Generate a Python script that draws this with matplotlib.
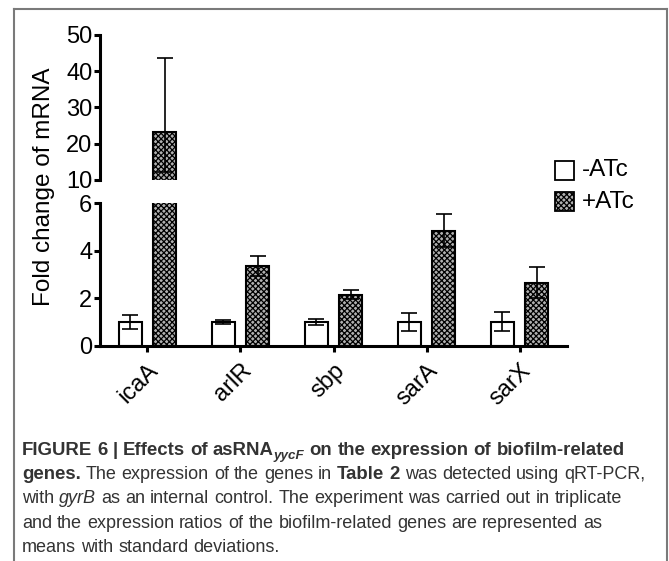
import matplotlib
matplotlib.use("Agg")
import matplotlib.pyplot as plt
import numpy as np
from matplotlib.patches import Rectangle
from matplotlib.lines import Line2D

plt.rcParams['font.family'] = ['Liberation Sans', 'DejaVu Sans']
plt.rcParams['hatch.linewidth'] = 0.9
plt.rcParams['hatch.color'] = '#2a2a2a'

genes = ['icaA', 'arlR', 'sbp', 'sarA', 'sarX']
minus_atc = [1.0, 1.0, 1.0, 1.0, 1.0]
minus_err = [0.30, 0.10, 0.13, 0.36, 0.40]
plus_atc = [23.2, 3.37, 2.14, 4.85, 2.65]
plus_err_low = [10.9, 0.43, 0.19, 0.68, 0.65]
plus_err_high = [20.5, 0.43, 0.19, 0.68, 0.65]
legend_labels = ['-ATc', '+ATc']

W, H = 669, 561
fig = plt.figure(figsize=(W / 100, H / 100), dpi=100)

def fx(px):
    return px / W

def fy(py):
    return 1 - py / H

left, right = 100, 567
ax_top = fig.add_axes([fx(left), fy(180), fx(right - left), (180 - 35) / H])
ax_bot = fig.add_axes([fx(left), fy(345.7), fx(right - left), (345.7 - 203.3) / H])

x = np.arange(len(genes))
off = 0.186
bw = 0.25
hatch_fc = '#b0b0b0'
ekw = dict(elinewidth=1.2, capsize=6, capthick=1.2, ecolor='black')

for ax in (ax_top, ax_bot):
    ax.bar(x - off, minus_atc, bw, yerr=minus_err, color='white', edgecolor='black',
           linewidth=1.5, error_kw=ekw)
    ax.bar(x + off, plus_atc, bw, yerr=[plus_err_low, plus_err_high], color=hatch_fc,
           edgecolor='black', hatch='xxxxxx', linewidth=1.5, error_kw=ekw)
    ax.set_xlim(-0.51, 4.51)
    for s in ('top', 'right'):
        ax.spines[s].set_visible(False)
    ax.spines['left'].set_linewidth(2.2)
    ax.spines['bottom'].set_linewidth(2.2)
    ax.tick_params(axis='y', labelsize=17, width=2.2, length=4, pad=1.5)
    ax.patch.set_alpha(0)

ax_top.set_ylim(10, 50)
ax_top.set_yticks([10, 20, 30, 40, 50])
ax_top.spines['bottom'].set_visible(False)
ax_top.set_xticks([])

ax_bot.set_ylim(0, 6)
ax_bot.set_yticks([0, 2, 4, 6])
ax_bot.set_xticks(x)
ax_bot.set_xticklabels(genes, rotation=45, ha='right', va='top', rotation_mode='anchor', fontsize=17)
ax_bot.tick_params(axis='x', width=2.2, length=4, pad=6)

fig.text(fx(44), fy(187), 'Fold change of mRNA', rotation=90, ha='center', va='center', fontsize=17.5)

# legend
for i, (lab, fc, hatch) in enumerate(zip(legend_labels, ['white', hatch_fc], [None, 'xxxxxx'])):
    y0 = 161 + i * 31
    r = Rectangle((fx(555), fy(y0 + 19)), fx(19), 19 / H, transform=fig.transFigure,
                  facecolor=fc, edgecolor='black', linewidth=1.3, hatch=hatch)
    fig.add_artist(r)
    fig.text(fx(582), fy(y0 + 9.5), lab, ha='left', va='center', fontsize=17.5)

# frame
fc = '#7a7a7a'
fig.add_artist(Line2D([fx(14), fx(14)], [fy(9), 0], transform=fig.transFigure, color=fc, lw=1.5))
fig.add_artist(Line2D([fx(14), fx(666.5)], [fy(9), fy(9)], transform=fig.transFigure, color=fc, lw=1.5))
fig.add_artist(Line2D([fx(666.5), fx(666.5)], [fy(9), 0], transform=fig.transFigure, color=fc, lw=1.5))

# caption
fig.canvas.draw()
renderer = fig.canvas.get_renderer()
cap_font = ['Liberation Sans Narrow', 'Liberation Sans', 'DejaVu Sans']
sb = 13.4
sn = 13.0
cap_col = '#333333'

def width_of(s, size, weight='normal', style='normal'):
    t = fig.text(0, 0, s, fontsize=size, family=cap_font, weight=weight, style=style)
    w = t.get_window_extent(renderer).width
    t.remove()
    return w

def draw_runs(x0, ybase, runs):
    xp = x0
    for txt, weight, style, size, dy in runs:
        words = txt.split(' ')
        for j, wd in enumerate(words):
            if wd:
                fig.text(fx(xp), fy(ybase + dy), wd, fontsize=size, family=cap_font, weight=weight,
                         style=style, color=cap_col, ha='left', va='baseline')
                xp += width_of(wd, size, weight, style)
            if j < len(words) - 1:
                xp += width_of('x x', size, weight) - width_of('xx', size, weight)

N, B, I = 'normal', 'bold', 'italic'
lines = [
    [('FIGURE 6 | Effects of asRNA', B, N, sb, 0), ('yycF', B, I, sb * 0.72, 4), (' on the expression of biofilm-related', B, N, sb, 0)],
    [('genes.', B, N, sb, 0), (' The expression of the genes in ', N, N, sn, 0), ('Table 2', B, N, sb, 0),
     (' was detected using qRT-PCR,', N, N, sn, 0)],
    [('with ', N, N, sn, 0), ('gyrB', N, I, sn, 0), (' as an internal control. The experiment was carried out in triplicate', N, N, sn, 0)],
    [('and the expression ratios of the biofilm-related genes are represented as', N, N, sn, 0)],
    [('means with standard deviations.', N, N, sn, 0)],
]
for k, ln in enumerate(lines):
    draw_runs(22, 455 + k * 24.2, ln)

fig.savefig('out.png', dpi=100)
